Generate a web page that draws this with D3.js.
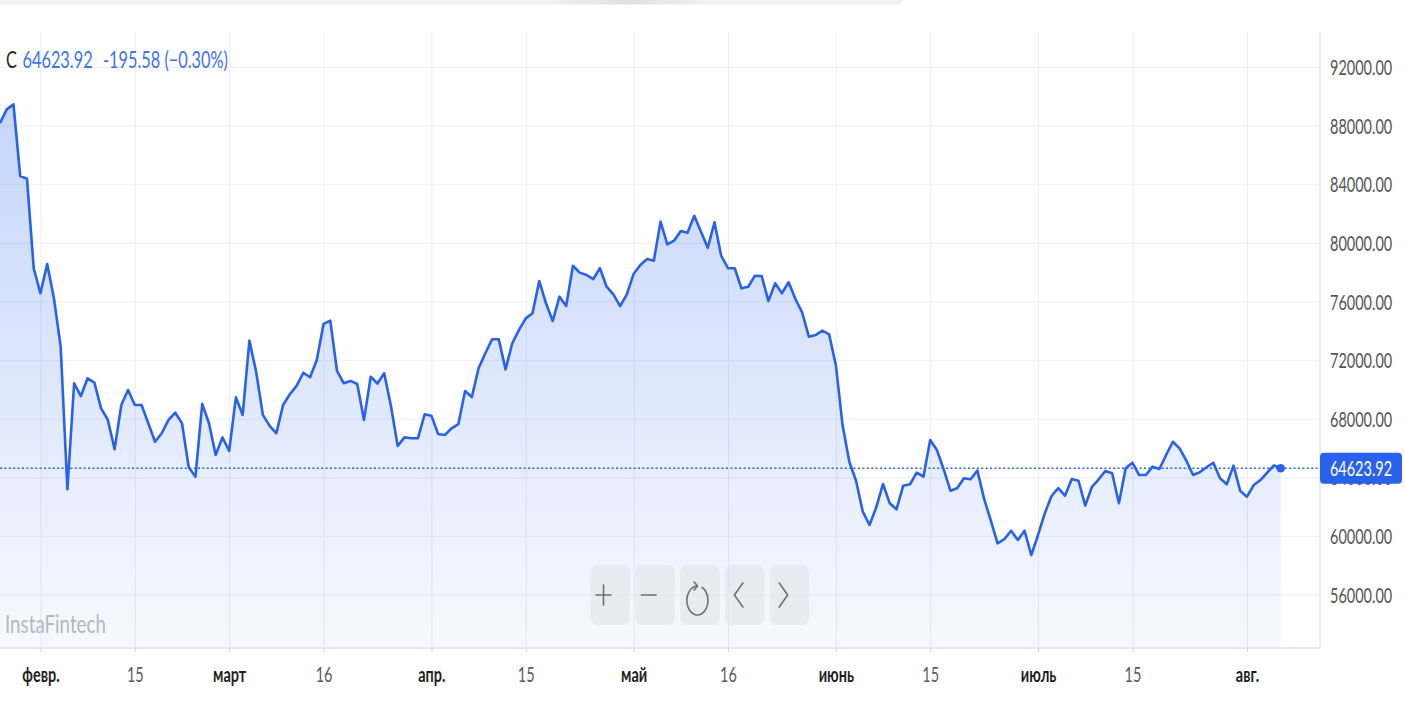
<!DOCTYPE html>
<html>
<head>
<meta charset="utf-8">
<style>
  body { margin: 0; background: #fff; }
  svg { display: block; font-family: Lato, "Noto Sans", sans-serif; }
</style>
</head>
<body>
<svg width="1405" height="715"></svg>
<script src="https://d3js.org/d3.v7.min.js"></script>
<script>

// daily closes, one per trading day shown on the chart (two calendar days have no bar)
var startDay = "2025-01-26";
var missingDays = ["2025-03-09", "2025-05-08"];

var closes = [
  88160, 89110, 89450, 84560, 84380, 78270, 76560, 78560, 76220, 72920,
  63190, 70420, 69550, 70760, 70460, 68710, 67920, 65920, 68940, 69960,
  68940, 68940, 67690, 66430, 67010, 67920, 68410, 67690, 64690, 64050,
  69010, 67690, 65530, 66730, 65800, 69460, 68260, 73330, 71210, 68260,
  67510, 67010, 68940, 69670, 70240, 71140, 70830, 72010, 74470, 74690,
  71260, 70420, 70580, 70370, 67920, 70870, 70400, 71100, 68870, 66140,
  66730, 66670, 66670, 68300, 68210, 66960, 66890, 67350, 67640, 69890,
  69480, 71440, 72470, 73420, 73420, 71370, 73150, 74060, 74850, 75200,
  77400, 75880, 74670, 76330, 75690, 78440, 77970, 77810, 77520, 78270,
  77010, 76490, 75690, 76490, 77880, 78490, 78900, 78780, 81450, 79900,
  80150, 80810, 80690, 81850, 80760, 79670, 81400, 79110, 78270, 78270,
  76900, 77010, 77760, 77740, 76030, 77240, 76560, 77310, 76170, 75260,
  73600, 73710, 74010, 73760, 71670, 67570, 65070, 63770, 61660, 60750,
  61960, 63550, 62230, 61820, 63430, 63530, 64320, 64050, 66550, 65870,
  64550, 63090, 63260, 63940, 63870, 64460, 62530, 61040, 59500, 59780,
  60360, 59730, 60360, 58700, 60070, 61550, 62730, 63260, 62750, 63890,
  63770, 62070, 63360, 63870, 64440, 64280, 62230, 64620, 65000, 64160,
  64160, 64730, 64570, 65530, 66430, 65980, 65140, 64160, 64350, 64690,
  65000, 63940, 63530, 64800, 63070, 62680, 63480, 63820, 64320, 64819.5,
  64623.92
];

var lastChange = -195.58;
var lastChangePct = -0.30;

var priceTicks = [56000, 60000, 64000, 68000, 72000, 76000, 80000, 84000, 88000, 92000];
var dateTicks = ["2025-02-01", "2025-02-15", "2025-03-01", "2025-03-16", "2025-04-01",
                 "2025-04-15", "2025-05-01", "2025-05-16", "2025-06-01", "2025-06-15",
                 "2025-07-01", "2025-07-15", "2025-08-01"];
var monthNames = ["янв.", "февр.", "март", "апр.", "май", "июнь", "июль", "авг."];

var svg = d3.select("svg"),
    width = +svg.attr("width"),
    height = +svg.attr("height");

var plotRight = 1320, plotTop = 32, plotBottom = 648;
var blue = "#2862ec";
var squeeze = 0.69; // the screenshot is horizontally squeezed, text too

// build the bar dates
var fmt = d3.utcFormat("%Y-%m-%d"), parse = d3.utcParse("%Y-%m-%d");
var days = [];
for (var d = parse(startDay); days.length < closes.length; d = d3.utcDay.offset(d, 1)) {
  if (missingDays.indexOf(fmt(d)) < 0) days.push(fmt(d));
}
var data = closes.map(function(v, i) { return { day: days[i], close: v }; });

// bars are evenly spaced, so a point scale on the dates
var x = d3.scalePoint().domain(days).range([0, 1280.7]);
var y = d3.scaleLinear().domain([60000, 92000]).range([536, 67]);

// top strip of the page
var defs = svg.append("defs");
var stripGrad = defs.append("linearGradient").attr("id", "strip");
stripGrad.append("stop").attr("offset", "0%").attr("stop-color", "#f0f0f0");
stripGrad.append("stop").attr("offset", "62%").attr("stop-color", "#f0f0f0");
stripGrad.append("stop").attr("offset", "70%").attr("stop-color", "#e1e1e5");
stripGrad.append("stop").attr("offset", "78%").attr("stop-color", "#f0f0f0");
stripGrad.append("stop").attr("offset", "100%").attr("stop-color", "#f0f0f0");
svg.append("rect").attr("x", -10).attr("y", -10).attr("width", 913).attr("height", 14.5)
    .attr("rx", 6).attr("fill", "url(#strip)");

// gradient under the line
var areaGrad = defs.append("linearGradient").attr("id", "areaFill")
    .attr("gradientUnits", "userSpaceOnUse")
    .attr("x1", 0).attr("y1", 100).attr("x2", 0).attr("y2", plotBottom);
areaGrad.append("stop").attr("offset", "0%").attr("stop-color", blue).attr("stop-opacity", 0.27);
areaGrad.append("stop").attr("offset", "100%").attr("stop-color", blue).attr("stop-opacity", 0.04);

defs.append("clipPath").attr("id", "plotClip")
  .append("rect").attr("x", 0).attr("y", plotTop).attr("width", plotRight).attr("height", plotBottom - plotTop);

// grid
svg.append("g")
    .attr("class", "hgrid")
    .call(d3.axisLeft(y).tickValues(priceTicks).tickSize(-plotRight).tickFormat(""))
    .call(function(g) {
      g.select(".domain").remove();
      g.selectAll("line").attr("stroke", "#f0f1f3").attr("stroke-width", 1.2);
    });

svg.append("g")
    .attr("class", "vgrid")
    .attr("transform", "translate(0," + plotBottom + ")")
    .call(d3.axisBottom(x).tickValues(dateTicks).tickSize(-(plotBottom - plotTop)).tickFormat(""))
    .call(function(g) {
      g.select(".domain").remove();
      g.selectAll("line").attr("stroke", "#eaedf1").attr("stroke-width", 1);
    });

// area + line
var plot = svg.append("g").attr("clip-path", "url(#plotClip)");

plot.append("path")
    .datum(data)
    .attr("fill", "url(#areaFill)")
    .attr("d", d3.area()
      .x(function(d) { return x(d.day); })
      .y0(plotBottom)
      .y1(function(d) { return y(d.close); }));

plot.append("path")
    .datum(data)
    .attr("fill", "none")
    .attr("stroke", blue)
    .attr("stroke-width", 2.6)
    .attr("stroke-linejoin", "round")
    .attr("d", d3.line()
      .x(function(d) { return x(d.day); })
      .y(function(d) { return y(d.close); }));

var last = data[data.length - 1];

// dotted price line
svg.append("line")
    .attr("x1", 0).attr("x2", plotRight)
    .attr("y1", y(last.close)).attr("y2", y(last.close))
    .attr("stroke", blue).attr("stroke-width", 1.5)
    .attr("stroke-dasharray", "2,2.4");

svg.append("circle")
    .attr("cx", x(last.day)).attr("cy", y(last.close)).attr("r", 4.3)
    .attr("fill", blue);

// watermark
svg.append("text")
    .attr("transform", "translate(5,633) scale(0.75,1)")
    .attr("font-size", 25)
    .attr("fill", "#b3b7be")
    .text("InstaFintech");

// zoom / pan controls
var controls = ["plus", "minus", "reset", "left", "right"];
var ctrl = svg.append("g").selectAll("g")
  .data(controls)
  .enter().append("g")
    .attr("transform", function(d, i) { return "translate(" + (590.5 + i * 44.8) + ",565)"; });

ctrl.append("rect")
    .attr("width", 39.5).attr("height", 60).attr("rx", 6).attr("ry", 8)
    .attr("fill", "#e4e7ec").attr("fill-opacity", 0.75);

var icons = {
  plus: "M5.5,30 H20.5 M13,20 V40",
  minus: "M6,30 H21",
  reset: "M17,21 A10.5,14.5 0 1 0 22,22.5 M14,17 L17.5,21 L14,25",
  left: "M18,18 L9.5,30 L18,42",
  right: "M9.5,18 L18,30 L9.5,42"
};
ctrl.append("path")
    .attr("d", function(d) { return icons[d]; })
    .attr("fill", "none")
    .attr("stroke", "#6c7078")
    .attr("stroke-width", 1.6)
    .attr("stroke-linecap", "round")
    .attr("stroke-linejoin", "round");

// bottom axis
svg.append("g")
    .attr("class", "xaxis")
    .attr("transform", "translate(0," + plotBottom + ")")
    .call(d3.axisBottom(x).tickValues(dateTicks).tickSize(4).tickSizeOuter(0)
      .tickFormat(function(s) {
        var dt = parse(s);
        return dt.getUTCDate() === 1 ? monthNames[dt.getUTCMonth()] : String(dt.getUTCDate());
      }))
    .call(function(g) {
      g.attr("font-size", null).attr("font-family", null);
      g.select(".domain").attr("d", "M0,0H" + plotRight).attr("stroke", "#dde2e9").attr("stroke-width", 1.5);
      g.selectAll(".tick line").attr("stroke", "#cfd4db");
      g.selectAll(".tick text")
        .attr("y", 0).attr("dy", "0.36em")
        .attr("transform", "translate(0,26) scale(" + squeeze + ",1)")
        .attr("font-size", 21)
        .attr("fill", function(s) { return parse(s).getUTCDate() === 1 ? "#1e1e1e" : "#5c5c5c"; })
        .attr("font-weight", function(s) { return parse(s).getUTCDate() === 1 ? 700 : 400; });
    });

// right price axis
svg.append("g")
    .attr("class", "yaxis")
    .attr("transform", "translate(" + plotRight + ",0)")
    .call(d3.axisRight(y).tickValues(priceTicks).tickSize(0).tickFormat(d3.format(".2f")))
    .call(function(g) {
      g.attr("font-size", null).attr("font-family", null);
      g.select(".domain").attr("d", "M0," + plotTop + "V" + plotBottom).attr("stroke", "#d6dde7");
      g.selectAll(".tick text")
        .attr("x", 0).attr("dy", "0.36em")
        .attr("transform", "translate(10,0) scale(" + squeeze + ",1)")
        .attr("font-size", 21)
        .attr("fill", "#555");
    });

// last price tag
var tag = svg.append("g").attr("transform", "translate(" + plotRight + "," + y(last.close) + ")");
tag.append("rect")
    .attr("x", 0).attr("y", -15.5).attr("width", 82).attr("height", 31).attr("rx", 4)
    .attr("fill", blue);
tag.append("text")
    .attr("dy", "0.36em")
    .attr("transform", "translate(41,0) scale(" + squeeze + ",1)")
    .attr("text-anchor", "middle")
    .attr("font-size", 21)
    .attr("fill", "#fff")
    .text(d3.format(".2f")(last.close));

// legend line at top left
var head = svg.append("g").attr("font-size", 23);
head.append("text")
    .attr("transform", "translate(6,68) scale(0.71,1)")
    .attr("fill", "#2a2a2a")
    .text("C");
head.append("text")
    .attr("transform", "translate(22.5,68) scale(0.71,1)")
    .attr("fill", "#3d72f0")
    .text(d3.format(".2f")(last.close));
head.append("text")
    .attr("transform", "translate(103,68) scale(0.71,1)")
    .attr("fill", "#3d72f0")
    .text("-" + d3.format(".2f")(-lastChange) + " (" + d3.format(".2f")(lastChangePct) + "%)");

</script>
</body>
</html>
